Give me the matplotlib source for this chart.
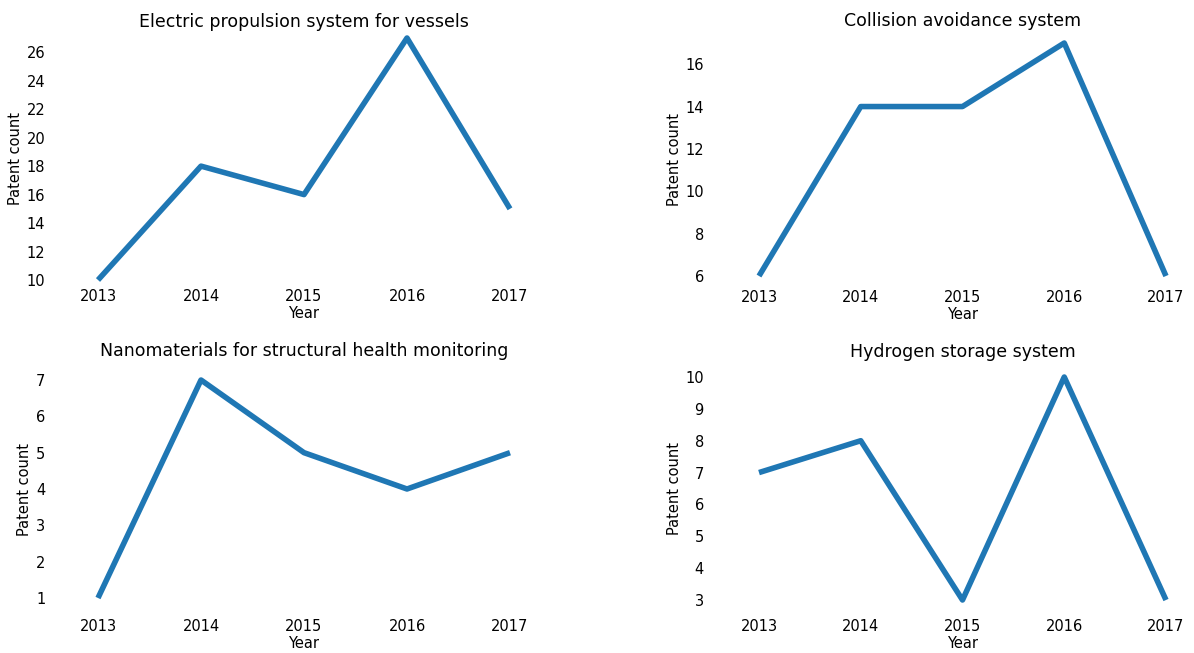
import numpy as np
import matplotlib
matplotlib.use("Agg")
import matplotlib.pyplot as plt
from matplotlib.ticker import MultipleLocator

years = [2013, 2014, 2015, 2016, 2017]
titles = ["Electric propulsion system for vessels",
          "Collision avoidance system",
          "Nanomaterials for structural health monitoring",
          "Hydrogen storage system"]
electric = [10, 18, 16, 27, 15]
collision = [6, 14, 14, 17, 6]
nano = [1, 7, 5, 4, 5]
hydrogen = [7, 8, 3, 10, 3]
series = [electric, collision, nano, hydrogen]
ystep = [2, 2, 1, 1]

W, H = 1194, 653
# axes boxes in pixels: left, right, top, bottom
boxes = [(98, 510, 38, 280), (759, 1166, 43, 276),
         (98, 510, 380, 598), (759, 1166, 377, 600)]
# per-panel pads (points): title, x ticks, y ticks
title_pad = [8, 12.3, 17.4, 14.5]
xpad = [6.6, 10.2, 15.2, 13.8]
ypad = [38, 39.7, 38, 39.7]

fig = plt.figure(figsize=(W / 100, H / 100), dpi=100)
for i, ((l, r, t, b), title, vals) in enumerate(zip(boxes, titles, series)):
    ax = fig.add_axes([l / W, 1 - b / H, (r - l) / W, (b - t) / H])
    ax.plot(years, vals, color="#1f77b4", linewidth=4, solid_capstyle="butt",
            clip_on=False)
    ax.set_xlim(years[0], years[-1])
    ax.set_ylim(min(vals), max(vals))
    ax.set_xticks(years)
    ax.yaxis.set_major_locator(MultipleLocator(ystep[i]))
    for s in ax.spines.values():
        s.set_visible(False)
    ax.tick_params(length=0, labelsize=10.5)
    ax.tick_params(axis="x", pad=xpad[i])
    ax.tick_params(axis="y", pad=ypad[i])
    ax.set_title(title, fontsize=12.5, pad=title_pad[i])
    ax.set_xlabel("Year", fontsize=10.5, labelpad=1)
    ax.set_ylabel("Patent count", fontsize=10.5, labelpad=2.5)
    ax.patch.set_alpha(0)

fig.savefig("out.png", dpi=100)
